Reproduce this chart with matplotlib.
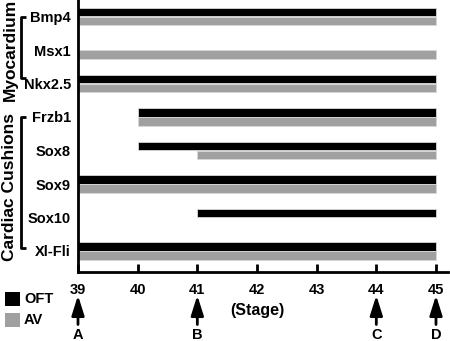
import matplotlib
matplotlib.use("Agg")
import matplotlib.pyplot as plt
from matplotlib.patches import Rectangle
from matplotlib.lines import Line2D
import matplotlib.transforms as mtransforms

plt.rcParams['font.family'] = ['Liberation Sans', 'DejaVu Sans']
plt.rcParams['font.weight'] = 'bold'

genes = ["Bmp4", "Msx1", "Nkx2.5", "Frzb1", "Sox8", "Sox9", "Sox10", "Xl-Fli"]
# onset stage of expression (None = not expressed); all persist to stage 45
oft_start = [39, None, 39, 40, 40, 39, 41, 39]
av_start = [39, 39, 39, 40, 41, 39, None, 39]
end_stage = 45
stages = [39, 40, 41, 42, 43, 44, 45]
arrow_stages = [39, 41, 44, 45]
arrow_labels = ["A", "B", "C", "D"]
groups = [("Myocardium", 0.0, 1.84, 1.0), ("Cardiac Cushions", 3.0, 6.9, 5.1)]

OFT_COLOR = "black"
AV_COLOR = "#a0a0a0"

W, H = 450, 341
fig = plt.figure(figsize=(W / 100, H / 100), dpi=100)
ax = fig.add_axes([78 / W, (H - 272) / H, (448 - 78) / W, 272 / H])

row_px = 33.5
ax.set_ylim((272 - 16.5) / row_px, -16.5 / row_px)
ax.set_xlim(39, 45 + 12 / 59.6)

bar_h = 0.255
off = 0.135
for i, (s_o, s_a) in enumerate(zip(oft_start, av_start)):
    if s_o is not None:
        ax.barh(i - off, end_stage - s_o, left=s_o, height=bar_h,
                color=OFT_COLOR, edgecolor="#d8d8d8", linewidth=0.6)
    if s_a is not None:
        ax.barh(i + off, end_stage - s_a, left=s_a, height=bar_h,
                color=AV_COLOR, edgecolor="#d8d8d8", linewidth=0.6)

for side in ("top", "right"):
    ax.spines[side].set_visible(False)
for side in ("left", "bottom"):
    ax.spines[side].set_linewidth(2.0)

ax.set_yticks(range(len(genes)))
ax.set_yticklabels(genes, fontsize=10.5, fontweight="bold")
ax.tick_params(axis="y", length=0, pad=5)

ax.set_xticks(stages)
ax.set_xticklabels([str(s) for s in stages], fontsize=10.5, fontweight="bold")
ax.tick_params(axis="x", direction="in", length=6, width=2, pad=8)

bt = mtransforms.blended_transform_factory(ax.transData, ax.transAxes)

# stage axis caption
ax.text(42, -0.14, "(Stage)", transform=bt, ha="center", va="center",
        fontsize=11.5, fontweight="bold")

# arrows marking sampled stages
for st, lab in zip(arrow_stages, arrow_labels):
    ax.annotate("", xy=(st, -0.086), xycoords=bt, xytext=(st, -0.193), textcoords=bt,
                arrowprops=dict(arrowstyle="-|>,head_length=1.2,head_width=0.38",
                                color="black", lw=2, shrinkA=0, shrinkB=0),
                annotation_clip=False)
    ax.text(st, -0.232, lab, transform=bt, ha="center", va="center",
            fontsize=10.5, fontweight="bold", clip_on=False)

# group brackets and labels
gt = mtransforms.blended_transform_factory(fig.transFigure, ax.transData)
for name, y0, y1, yc in groups:
    xb = 20.5 / W
    xe = 25.5 / W
    fig.add_artist(Line2D([xe, xb, xb, xe], [y0, y0, y1, y1], transform=gt,
                          color="black", lw=2, solid_capstyle="butt"))
    fig.text(10 / W, yc, name, transform=gt, rotation=90, ha="center", va="center",
             fontsize=12.5, fontweight="bold")

# legend
for (label, color, ytop) in [("OFT", OFT_COLOR, 292), ("AV", AV_COLOR, 313)]:
    fig.add_artist(Rectangle((5 / W, (H - ytop - 13.5) / H), 15 / W, 13.5 / H,
                             transform=fig.transFigure, facecolor=color, edgecolor="none"))
    fig.text(24 / W, (H - ytop - 7) / H, label, ha="left", va="center",
             fontsize=10.5, fontweight="bold")

fig.savefig("out.png", dpi=100)
